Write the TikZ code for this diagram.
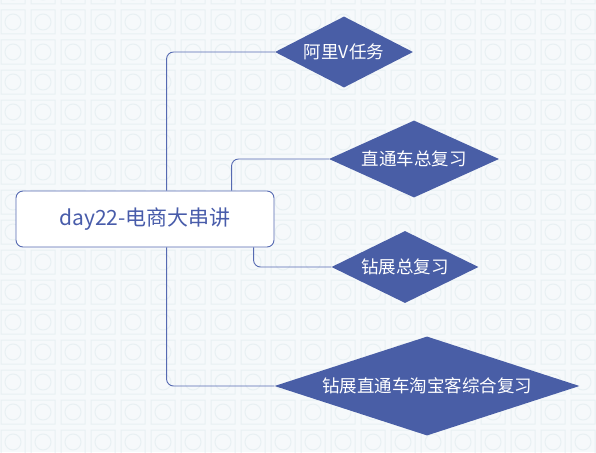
\documentclass[tikz,border=0pt]{standalone}
\usepackage{xcolor}
\usepackage{fontspec}
\usepackage{tikz}
\usetikzlibrary{shapes.geometric, positioning, calc}
\setmainfont{Noto Sans CJK SC}
\definecolor{mynavy}{RGB}{73,94,166}
\definecolor{myedge}{RGB}{86,106,178}
\definecolor{mytext}{RGB}{72,92,170}
\definecolor{mybg}{RGB}{246,249,251}
\definecolor{mytile}{RGB}{232,240,243}
\tikzset{
  topic/.style={rectangle, draw=myedge, fill=white, rounded corners=7pt,
    minimum width=258pt, minimum height=56pt, line width=0.9pt,
    text=mytext, font=\fontsize{21}{24}\selectfont},
  sub/.style={diamond, fill=mynavy, inner sep=0pt, text=white,
    font=\fontsize{17.5}{20}\selectfont},
  link/.style={line width=0.9pt, color=myedge, rounded corners=7pt}
}

\begin{document}
\begin{tikzpicture}[x=1pt, y=-1pt]
  \useasboundingbox (0,0) rectangle (596,452);
  \fill[mybg] (0,0) rectangle (596,452);
  \foreach \i in {-1,...,19}
    \foreach \j in {-1,...,15}
      \draw[mytile, line width=1pt] (\i*30+1,\j*30+10) rectangle ++(24,24)
        (\i*30+13,\j*30+22) circle (8);

  \node[topic] (root) at (145,219) {day22-电商大串讲};

  \node[sub, aspect=1.94, minimum width=138pt, minimum height=71pt] (ali) at (344,52) {阿里V任务};
  \node[sub, aspect=2.2, minimum width=170pt, minimum height=77pt] (ztc) at (414,159) {直通车总复习};
  \node[sub, aspect=2.04, minimum width=147pt, minimum height=72pt] (zz) at (405,267) {钻展总复习};
  \node[sub, aspect=3.08, minimum width=305pt, minimum height=99pt] (all) at (427,386) {钻展直通车淘宝客综合复习};

  \draw[link] ([xshift=151pt]root.north west) |- (ali.west);
  \draw[link] ([xshift=216pt]root.north west) |- (ztc.west);
  \draw[link] ([xshift=238pt]root.south west) |- (zz.west);
  \draw[link] ([xshift=151pt]root.south west) |- (all.west);
\end{tikzpicture}
\end{document}
